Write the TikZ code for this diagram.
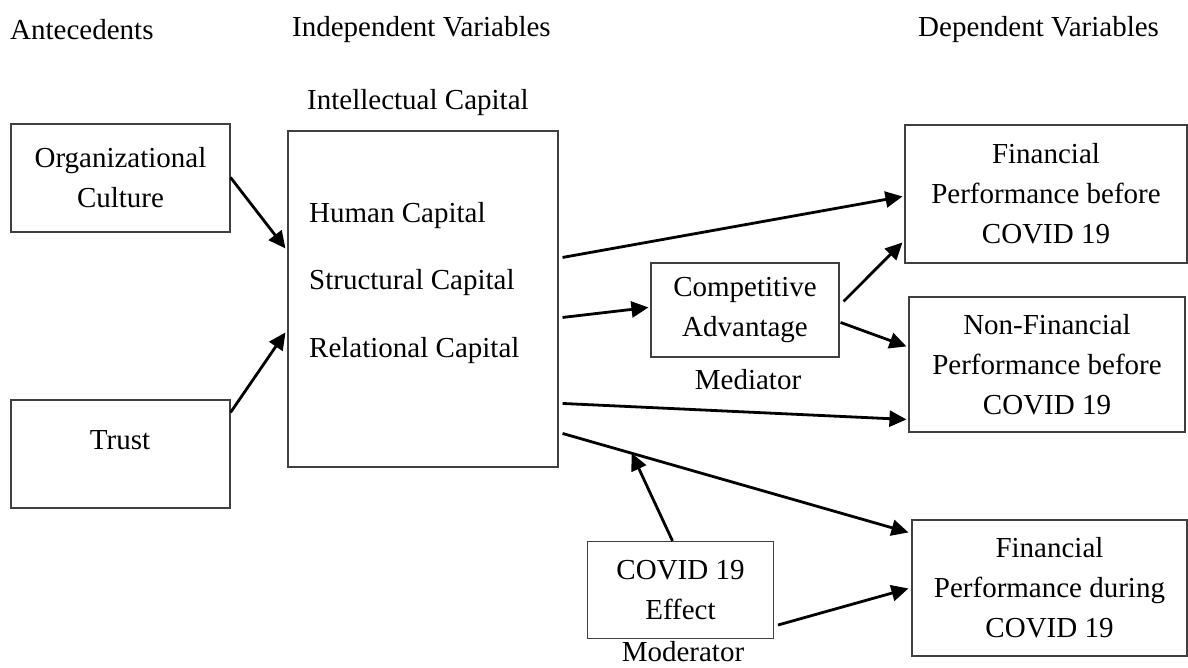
\documentclass[tikz,border=0pt]{standalone}
\usepackage{fontspec}
\setmainfont{Liberation Serif}
\usetikzlibrary{arrows.meta,calc}
\begin{document}
\begin{tikzpicture}[x=1pt,y=-1pt,
  box/.style={draw=black!75, line width=1.1pt, inner sep=0pt, align=center},
  lbl/.style={inner sep=0pt},
  arr/.style={line width=2.8pt, -{Triangle[length=17pt,width=16pt]}},
  font=\fontsize{29}{40}\selectfont]
\useasboundingbox (0,0) rectangle (1188,667);
% headings
\node[lbl, anchor=west] (h1) at (10,30) {Antecedents};
\node[lbl, anchor=west] (h2) at (292,30) {Independent Variables};
\node[lbl, anchor=west] (h3) at (918,30) {Dependent Variables};
\node[lbl, anchor=west] (icl) at (307,103) {Intellectual Capital};
% antecedents
\node[box, minimum width=219pt, minimum height=108pt] (oc) at (120.5,178) {Organizational\\Culture};
\node[box, minimum width=219pt, minimum height=108pt] (tr) at (120.5,454) {};
\node[lbl] (trl) at (120,440) {Trust};
% intellectual capital
\node[box, minimum width=270pt, minimum height=336pt] (ic) at (423,299) {};
\node[lbl, anchor=west] (hc) at (309,216) {Human Capital};
\node[lbl, anchor=west] (sc) at (309,283) {Structural Capital};
\node[lbl, anchor=west] (rc) at (309,351) {Relational Capital};
% mediator
\node[box, minimum width=188pt, minimum height=94pt] (ca) at (745,310) {Competitive\\Advantage};
\node[lbl] (med) at (748,380) {Mediator};
% dependent
\node[box, minimum width=282pt, minimum height=138pt] (fpb) at (1046,194) {Financial\\Performance before\\COVID 19};
\node[box, minimum width=276pt, minimum height=135pt] (nfp) at (1047,364.5) {Non-Financial\\Performance before\\COVID 19};
\node[box, minimum width=275pt, minimum height=136pt] (fpd) at (1049.5,588) {Financial\\Performance during\\COVID 19};
% moderator
\node[box, minimum width=186pt, minimum height=97pt] (cov) at (680.5,590) {COVID 19\\Effect};
\node[lbl, anchor=base] (mod) at (683,661) {Moderator};
% connectors
\draw[arr] ($(oc.north east)+(0,54)$) -- ($(ic.north west)+(-2,118)$);
\draw[arr] ($(tr.north east)+(0,13)$) -- ($(ic.north west)+(-2,202)$);
\draw[arr] ($(ic.north east)+(4,127)$) -- ($(fpb.north west)+(-2,72)$);
\draw[arr] ($(ic.north east)+(4,187)$) -- ($(ca.north west)+(-2,45)$);
\draw[arr] ($(ca.north east)+(4,39)$) -- ($(fpb.north west)+(-2,118)$);
\draw[arr] ($(ca.north east)+(1,60)$) -- ($(nfp.north west)+(-2,50)$);
\draw[arr] ($(ic.north east)+(4,273)$) -- ($(nfp.north west)+(-2,123)$);
\coordinate (a8s) at ($(ic.north east)+(4,303)$);
\coordinate (a8e) at ($(fpd.north west)+(-3,13)$);
\draw[arr] (a8s) -- (a8e);
\coordinate (m) at ($(a8s)!0.2!(a8e)$);
\draw[arr] ($(cov.north)+(-8,0)$) -- (m);
\draw[arr] ($(cov.east)+(4,35)$) -- ($(fpd.north west)+(-3,69)$);
\end{tikzpicture}
\end{document}
